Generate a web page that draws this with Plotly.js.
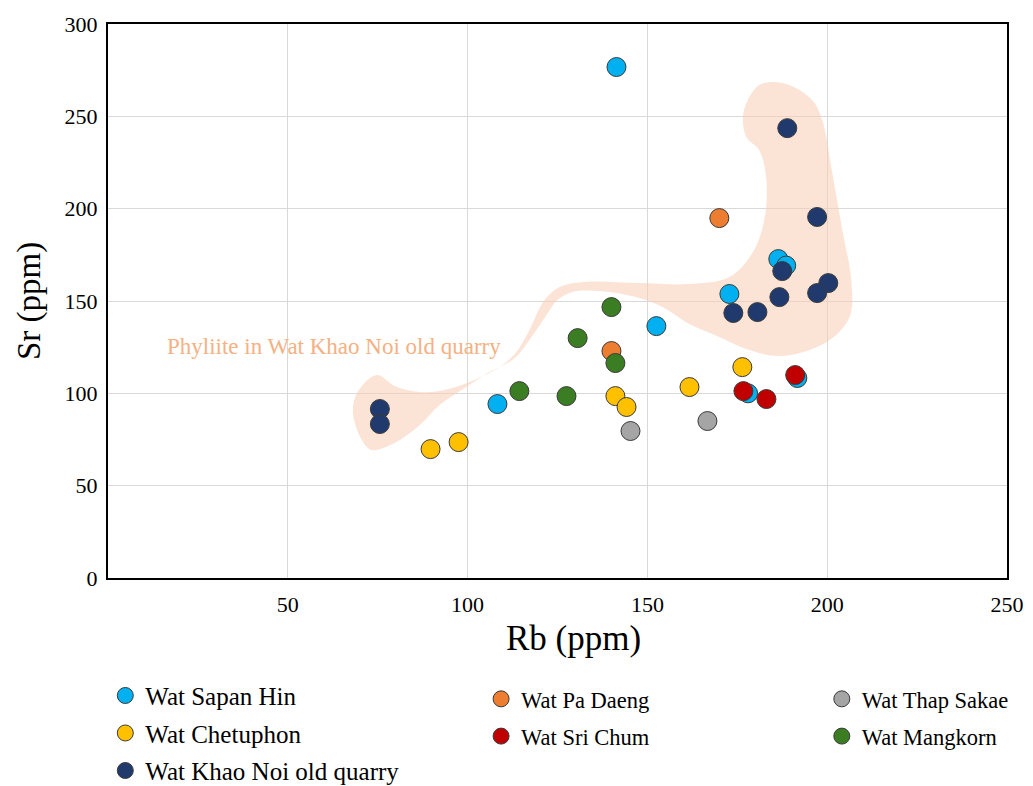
<!DOCTYPE html>
<html>
<head>
<meta charset="utf-8">
<script src="https://cdn.plot.ly/plotly-3.0.1.min.js"></script>
<style>html,body{margin:0;padding:0;background:#fff;} #chart{width:1033px;height:786px;}</style>
</head>
<body>
<div id="chart"></div>
<script>
// ---- Data (Rb ppm, Sr ppm) ----
const sapanHinRb = [141.4, 108.3, 152.5, 172.8, 186.4, 188.6, 178.0, 191.7];
const sapanHinSr = [276.7, 94.2, 136.4, 153.8, 172.7, 169.2, 100.0, 108.3];

const chetuphonRb = [89.7, 97.5, 141.1, 144.2, 161.7, 176.4];
const chetuphonSr = [69.8, 73.6, 98.5, 92.6, 103.4, 114.2];

const khaoNoiRb = [75.6, 75.6, 188.9, 197.2, 187.5, 200.3, 197.2, 186.7, 173.9, 180.6];
const khaoNoiSr = [91.5, 83.4, 243.6, 195.5, 166.2, 159.7, 154.3, 152.1, 143.5, 144.0];

const paDaengRb = [170.0, 140.0];
const paDaengSr = [194.9, 122.9];

const sriChumRb = [176.7, 183.1, 191.1];
const sriChumSr = [101.2, 96.9, 109.9];

const thapSakaeRb = [145.3, 166.7];
const thapSakaeSr = [79.6, 85.0];

const mangkornRb = [140.0, 130.6, 141.1, 114.4, 127.5];
const mangkornSr = [146.7, 129.9, 116.4, 101.2, 98.5];

// Phyllite field outline (Rb, Sr)
const fieldRb = [74.7,79.7,86.7,93.6,101.9,108.9,113.6,117.2,121.4,125.6,132.5,147.8,161.7,172.8,179.2,182.5,183.1,181.1,177.5,176.7,180.3,183.9,189.4,195.8,198.6,201.4,204.2,206.7,206.4,202.5,195.8,186.7,178.3,170.0,161.7,154.7,147.8,136.7,128.9,125.0,121.4,117.2,113.1,106.1,99.2,92.2,86.7,79.7,73.3,70.6,68.1,69.4,74.7];
const fieldSr = [109.9,104.0,100.7,101.8,107.2,114.2,122.4,134.3,150.5,157.6,160.3,159.7,159.2,163.0,176.0,193.8,215.5,231.7,238.8,251.8,265.8,268.5,266.9,258.8,248.0,219.3,188.4,161.3,142.4,131.6,124.0,120.2,123.4,130.5,137.5,146.2,151.6,155.4,154.8,150.5,140.8,128.9,119.1,111.5,102.9,93.7,82.8,73.1,69.3,74.7,89.9,100.7,109.9];

const fieldLabel = "Phyliite in Wat Khao Noi old quarry";
const xTitle = "Rb (ppm)";
const yTitle = "Sr (ppm)";
const xTicks = [50, 100, 150, 200, 250];
const yTicks = [0, 50, 100, 150, 200, 250, 300];

const FONT = "Liberation Serif, Times New Roman, serif";

function pts(name, xs, ys, color, legend) {
  return {
    type: "scatter", mode: "markers", name: name, x: xs, y: ys,
    legend: legend, legendgroup: name,
    marker: {size: 19, color: color, line: {color: "#3a3a3a", width: 1}},
    hoverinfo: "x+y+name"
  };
}

const traces = [
  {type: "scatter", mode: "lines", x: fieldRb, y: fieldSr, fill: "toself",
   fillcolor: "rgba(248,204,180,0.55)", line: {width: 0, shape: "spline", smoothing: 1},
   showlegend: false, hoverinfo: "skip"},
  pts("Wat Sapan Hin", sapanHinRb, sapanHinSr, "#00B0F0", "legend"),
  pts("Wat Chetuphon", chetuphonRb, chetuphonSr, "#FFC000", "legend"),
  pts("Wat Khao Noi old quarry", khaoNoiRb, khaoNoiSr, "#203A6E", "legend"),
  pts("Wat Pa Daeng", paDaengRb, paDaengSr, "#ED7D31", "legend2"),
  pts("Wat Sri Chum", sriChumRb, sriChumSr, "#C00000", "legend2"),
  pts("Wat Thap Sakae", thapSakaeRb, thapSakaeSr, "#A5A5A5", "legend3"),
  pts("Wat Mangkorn", mangkornRb, mangkornSr, "#3A7D22", "legend3")
];

const legendBase = {
  orientation: "v", yanchor: "top", xanchor: "left",
  font: {family: FONT, size: 25, color: "#000"},
  bgcolor: "rgba(0,0,0,0)", traceorder: "grouped", tracegroupgap: 2,
  itemsizing: "trace"
};
const smallLegend = {font: {family: FONT, size: 22.5, color: "#000"}, tracegroupgap: 5};

const layout = {
  width: 1033, height: 786,
  margin: {l: 108, r: 26, t: 24, b: 208, autoexpand: false},
  paper_bgcolor: "#fff", plot_bgcolor: "#fff",
  font: {family: FONT, color: "#000"},
  showlegend: true,
  xaxis: {
    range: [0, 250], tickvals: xTicks, ticktext: xTicks.map(String),
    showgrid: true, gridcolor: "#d9d9d9", gridwidth: 1,
    zeroline: false, showline: true, linecolor: "#000", linewidth: 2, mirror: true,
    ticks: "outside", ticklen: 6, tickcolor: "rgba(0,0,0,0)",
    tickfont: {family: FONT, size: 22, color: "#000"},
    automargin: false
  },
  yaxis: {
    range: [0, 300], tickvals: yTicks, ticktext: yTicks.map(String),
    showgrid: true, gridcolor: "#d9d9d9", gridwidth: 1,
    zeroline: false, showline: true, linecolor: "#000", linewidth: 2, mirror: true,
    ticks: "outside", ticklen: 4, tickcolor: "rgba(0,0,0,0)",
    tickfont: {family: FONT, size: 22, color: "#000"},
    automargin: false,
    title: {text: yTitle, font: {family: FONT, size: 33, color: "#000"}, standoff: 14}
  },
  legend: Object.assign({}, legendBase, {x: -0.003, y: -0.171}),
  legend2: Object.assign({}, legendBase, smallLegend, {x: 0.415, y: -0.180}),
  legend3: Object.assign({}, legendBase, smallLegend, {x: 0.794, y: -0.180}),
  annotations: [{
    x: 62.8, y: 125.6, xref: "x", yref: "y", text: fieldLabel, showarrow: false,
    font: {family: FONT, size: 23, color: "#F4B183"}
  }, {
    x: 0.518, y: -0.11, xref: "paper", yref: "paper", text: xTitle, showarrow: false,
    xanchor: "center", yanchor: "middle",
    font: {family: FONT, size: 35, color: "#000"}
  }]
};

Plotly.newPlot("chart", traces, layout, {displayModeBar: false});
</script>
</body>
</html>
